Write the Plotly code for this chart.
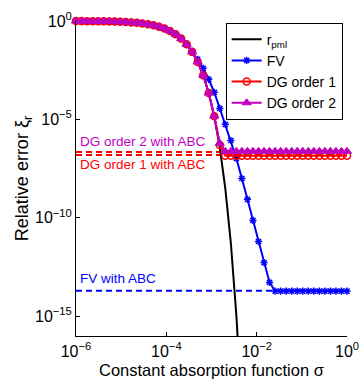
import plotly.graph_objects as go

# sigma grid (log10), 50 points from 1e-6 to 1
SIGMA_LOG10 = [-6.000, -5.878, -5.755, -5.633, -5.510, -5.388, -5.265, -5.143, -5.020, -4.898,
               -4.776, -4.653, -4.531, -4.408, -4.286, -4.163, -4.041, -3.918, -3.796, -3.673,
               -3.551, -3.429, -3.306, -3.184, -3.061, -2.939, -2.816, -2.694, -2.571, -2.449,
               -2.327, -2.204, -2.082, -1.959, -1.837, -1.714, -1.592, -1.469, -1.347, -1.224,
               -1.102, -0.980, -0.857, -0.735, -0.612, -0.490, -0.367, -0.245, -0.122, 0.000]

# log10 of the relative error
R_PML_LOG10 = [-0.004, -0.006, -0.007, -0.010, -0.013, -0.017, -0.023, -0.030, -0.040, -0.053,
               -0.071, -0.094, -0.124, -0.165, -0.218, -0.289, -0.383, -0.508, -0.674, -0.894,
               -1.184, -1.568, -2.080, -2.757, -3.659, -4.846, -6.433, -8.517, -11.30, -14.97,
               -19.83]

FV_LOG10 = [-0.004, -0.006, -0.007, -0.010, -0.013, -0.017, -0.023, -0.030, -0.040, -0.053,
            -0.071, -0.094, -0.124, -0.165, -0.218, -0.289, -0.383, -0.508, -0.674, -0.894,
            -1.184, -1.550, -1.950, -2.400, -2.960, -3.620, -4.440, -5.250, -6.070, -6.980,
            -8.000, -9.060, -10.13, -11.20, -12.27, -13.28, -13.72, -13.72, -13.72, -13.72,
            -13.72, -13.72, -13.72, -13.72, -13.72, -13.72, -13.72, -13.72, -13.72, -13.72]

DG1_LOG10 = [-0.004, -0.006, -0.007, -0.010, -0.013, -0.017, -0.023, -0.030, -0.040, -0.053,
             -0.071, -0.094, -0.124, -0.165, -0.218, -0.289, -0.383, -0.508, -0.674, -0.894,
             -1.184, -1.568, -2.080, -2.757, -3.659, -4.840, -6.300, -6.840, -6.840, -6.840,
             -6.840, -6.840, -6.840, -6.840, -6.840, -6.840, -6.840, -6.840, -6.840, -6.840,
             -6.840, -6.840, -6.840, -6.840, -6.840, -6.840, -6.840, -6.840, -6.840, -6.840]

DG2_LOG10 = [-0.004, -0.006, -0.007, -0.010, -0.013, -0.017, -0.023, -0.030, -0.040, -0.053,
             -0.071, -0.094, -0.124, -0.165, -0.218, -0.289, -0.383, -0.508, -0.674, -0.894,
             -1.184, -1.568, -2.080, -2.757, -3.659, -4.830, -6.210, -6.620, -6.620, -6.620,
             -6.620, -6.620, -6.620, -6.620, -6.620, -6.620, -6.620, -6.620, -6.620, -6.620,
             -6.620, -6.620, -6.620, -6.620, -6.620, -6.620, -6.620, -6.620, -6.620, -6.620]

# ABC reference levels (log10)
ABC_NAMES = ["FV with ABC", "DG order 1 with ABC", "DG order 2 with ABC"]
ABC_LEVELS_LOG10 = [-13.70, -6.81, -6.66]
ABC_COLORS = ["#0000FF", "#FF0000", "#FF0000"]
ABC_LABEL_COLORS = ["#0000FF", "#FF0000", "#BF00BF"]
ABC_LABEL_Y_LOG10 = [-13.08, -7.29, -6.12]

X_TICK_VALS = [1e-6, 1e-4, 1e-2, 1]
X_TICK_TEXT = ["10<sup>−6</sup>", "10<sup>−4</sup>", "10<sup>−2</sup>", "10<sup>0</sup>"]
Y_TICK_VALS = [1, 1e-5, 1e-10, 1e-15]
Y_TICK_TEXT = ["10<sup>0</sup>", "10<sup>−5</sup>", "10<sup>−10</sup>", "10<sup>−15</sup>"]
X_TITLE = "Constant absorption function σ"
Y_TITLE = "Relative error ξ<sub>r</sub>"

FONT = "Liberation Sans, Arial, sans-serif"

sigma = [10 ** v for v in SIGMA_LOG10]


def to_val(lst):
    return [10 ** v for v in lst]


fig = go.Figure()

# dashed ABC levels
for name, lev, col in zip(ABC_NAMES, ABC_LEVELS_LOG10, ABC_COLORS):
    fig.add_trace(go.Scatter(
        x=[sigma[0], sigma[-1]], y=[10 ** lev, 10 ** lev], mode="lines",
        line=dict(color=col, width=2, dash="6px,4px"), showlegend=False, hoverinfo="skip"))

fig.add_trace(go.Scatter(
    x=sigma[:len(R_PML_LOG10)], y=to_val(R_PML_LOG10), mode="lines",
    name="r<sub>pml</sub>", line=dict(color="black", width=2)))

fig.add_trace(go.Scatter(
    x=sigma, y=to_val(FV_LOG10), mode="lines+markers", name="FV",
    line=dict(color="#0000FF", width=2),
    marker=dict(symbol="asterisk-open", size=6, color="#0000FF",
                line=dict(color="#0000FF", width=1.5))))

fig.add_trace(go.Scatter(
    x=sigma, y=to_val(DG1_LOG10), mode="lines+markers", name="DG order 1",
    line=dict(color="#FF0000", width=2),
    marker=dict(symbol="circle-open", size=7, color="#FF0000",
                line=dict(color="#FF0000", width=1.5))))

fig.add_trace(go.Scatter(
    x=sigma, y=to_val(DG2_LOG10), mode="lines+markers", name="DG order 2",
    line=dict(color="#BF00BF", width=2),
    marker=dict(symbol="triangle-up", size=8, color="#BF00BF",
                line=dict(color="#BF00BF", width=1))))

fig.update_traces(cliponaxis=False, selector=dict(mode="lines+markers"))

for name, ly, col in zip(ABC_NAMES, ABC_LABEL_Y_LOG10, ABC_LABEL_COLORS):
    fig.add_annotation(x=0.008, xref="paper", y=ly, yref="y", text=name,
                       showarrow=False, xanchor="left", yanchor="middle",
                       font=dict(family=FONT, size=13.5, color=col))

# x axis title (placed as annotation below tick labels)
fig.add_annotation(x=0.5, xref="paper", y=-0.108, yref="paper", text=X_TITLE,
                   showarrow=False, xanchor="center", yanchor="middle",
                   font=dict(family=FONT, size=16.5, color="black"))

fig.update_layout(
    width=360, height=379,
    margin=dict(l=76, r=13, t=21, b=43, autoexpand=False),
    plot_bgcolor="white", paper_bgcolor="white",
    font=dict(family=FONT, size=16, color="black"),
    showlegend=True,
    legend=dict(x=0.984, xanchor="right", y=0.995, yanchor="top",
                bgcolor="white", bordercolor="black", borderwidth=1,
                font=dict(family=FONT, size=14, color="black"),
                tracegroupgap=0, itemwidth=30),
    xaxis=dict(type="log", range=[-6, 0], showline=True, linecolor="black", linewidth=1,
               ticks="inside", ticklen=4, tickcolor="black", showgrid=False, zeroline=False,
               tickvals=X_TICK_VALS, ticktext=X_TICK_TEXT, mirror=False, automargin=False,
               tickfont=dict(family=FONT, size=16), ticklabelstandoff=1),
    yaxis=dict(type="log", range=[-16, 0], showline=True, linecolor="black", linewidth=1,
               ticks="inside", ticklen=4, tickcolor="black", showgrid=False, zeroline=False,
               tickvals=Y_TICK_VALS, ticktext=Y_TICK_TEXT, mirror=False, automargin=False,
               tickfont=dict(family=FONT, size=16),
               title=dict(text=Y_TITLE, standoff=0,
                          font=dict(family=FONT, size=18))),
)

fig.write_html("out.html", config={"displayModeBar": False},
               post_script="document.body.style.margin='0';document.body.style.overflow='hidden';")
